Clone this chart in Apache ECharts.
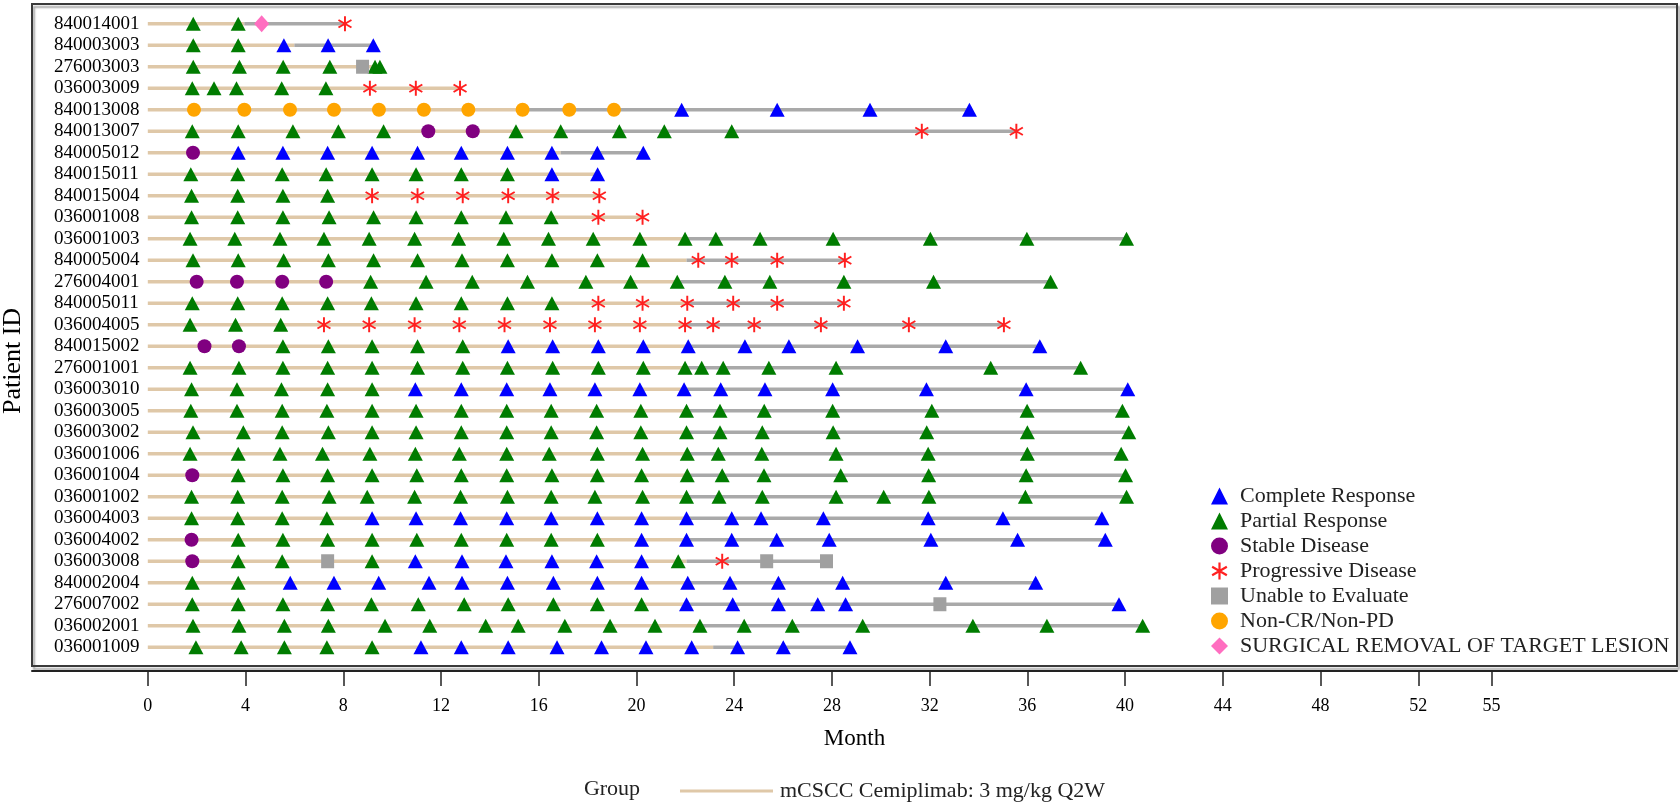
<!DOCTYPE html>
<html>
<head>
<meta charset="utf-8">
<title>Swimmer plot</title>
<script src="https://cdn.jsdelivr.net/npm/echarts@6/dist/echarts.min.js"></script>
<style>
  html, body { margin: 0; padding: 0; background: #fff; }
  #chart { width: 1680px; height: 802px; }
</style>
</head>
<body>
<div id="chart"></div>
<script>
  // patients, top to bottom
  const patients = [
    '840014001', '840003003', '276003003', '036003009', '840013008',
    '840013007', '840005012', '840015011', '840015004', '036001008',
    '036001003', '840005004', '276004001', '840005011', '036004005',
    '840015002', '276001001', '036003010', '036003005', '036003002',
    '036001006', '036001004', '036001002', '036004003', '036004002',
    '036003008', '840002004', '276007002', '036002001', '036001009'
  ]

  // end of treatment (month), tan bar
  const treatmentEnd = [
    3.95, 6.0, 9.5, 12.78, 15.6,
    16.94, 16.9, 18.41, 18.48, 20.25,
    21.99, 22.05, 21.8, 22.08, 21.99,
    22.1, 22.1, 22.0, 22.0, 21.95,
    22.05, 22.05, 22.05, 22.05, 22.05,
    22.05, 22.1, 22.05, 22.72, 23.14
  ]

  // assessment months per patient
  const visitMonths = [
    [1.86, 3.70, 4.66, 8.07],
    [1.86, 3.70, 5.57, 7.38, 9.23],
    [1.86, 3.75, 5.54, 7.45, 8.79, 9.30, 9.50],
    [1.82, 2.71, 3.63, 5.48, 7.29, 9.09, 10.97, 12.78],
    [1.89, 3.95, 5.82, 7.62, 9.46, 11.30, 13.12, 15.34, 17.25, 19.08, 21.85, 25.76, 29.56, 33.63],
    [1.82, 3.70, 5.94, 7.80, 9.65, 11.48, 13.30, 15.07, 16.90, 19.30, 21.14, 23.90, 31.68, 35.55],
    [1.85, 3.70, 5.53, 7.36, 9.18, 11.04, 12.83, 14.72, 16.54, 18.40, 20.28],
    [1.76, 3.68, 5.50, 7.30, 9.18, 10.98, 12.83, 14.72, 16.54, 18.41],
    [1.79, 3.68, 5.53, 7.36, 9.18, 11.04, 12.89, 14.75, 16.57, 18.48],
    [1.79, 3.68, 5.53, 7.42, 9.24, 10.98, 12.83, 14.66, 16.51, 18.44, 20.25],
    [1.73, 3.56, 5.41, 7.21, 9.06, 10.92, 12.72, 14.57, 16.40, 18.23, 20.14, 21.99, 23.25, 25.06, 28.05, 32.03, 35.98, 40.06],
    [1.85, 3.70, 5.56, 7.39, 9.24, 11.04, 12.86, 14.72, 16.54, 18.40, 20.25, 22.53, 23.90, 25.76, 28.53],
    [2.00, 3.65, 5.50, 7.30, 9.12, 11.39, 13.28, 15.54, 17.93, 19.76, 21.67, 23.62, 25.46, 28.49, 32.16, 36.95],
    [1.82, 3.68, 5.50, 7.36, 9.15, 10.98, 12.83, 14.72, 16.54, 18.44, 20.25, 22.08, 23.96, 25.76, 28.49],
    [1.73, 3.59, 5.44, 7.21, 9.06, 10.92, 12.75, 14.60, 16.46, 18.30, 20.14, 21.99, 23.14, 24.82, 27.55, 31.15, 35.04],
    [2.32, 3.73, 5.53, 7.39, 9.18, 11.04, 12.89, 14.75, 16.57, 18.44, 20.28, 22.12, 24.44, 26.24, 29.05, 32.66, 36.51],
    [1.73, 3.73, 5.53, 7.36, 9.18, 11.04, 12.89, 14.72, 16.57, 18.44, 20.28, 21.99, 22.67, 23.55, 25.42, 28.17, 34.50, 38.18],
    [1.79, 3.65, 5.47, 7.36, 9.18, 10.95, 12.83, 14.69, 16.46, 18.30, 20.14, 21.95, 23.45, 25.26, 28.03, 31.87, 35.95, 40.11],
    [1.76, 3.65, 5.50, 7.33, 9.18, 10.98, 12.83, 14.69, 16.51, 18.37, 20.18, 22.05, 23.42, 25.23, 28.03, 32.09, 35.99, 39.89],
    [1.85, 3.91, 5.50, 7.39, 9.18, 10.98, 12.83, 14.69, 16.51, 18.37, 20.18, 22.05, 23.42, 25.15, 28.05, 31.88, 36.00, 40.15],
    [1.73, 3.70, 5.41, 7.15, 9.09, 10.95, 12.75, 14.69, 16.43, 18.40, 20.25, 22.08, 23.35, 25.13, 28.17, 31.94, 36.00, 39.84],
    [1.82, 3.70, 5.53, 7.36, 9.18, 11.01, 12.83, 14.69, 16.54, 18.40, 20.21, 22.08, 23.51, 25.22, 28.36, 31.96, 35.95, 40.02],
    [1.79, 3.68, 5.50, 7.42, 8.98, 10.92, 12.80, 14.72, 16.51, 18.30, 20.25, 22.05, 23.38, 25.15, 28.17, 30.12, 31.97, 35.92, 40.06],
    [1.79, 3.68, 5.50, 7.33, 9.18, 10.98, 12.80, 14.69, 16.51, 18.40, 20.21, 22.05, 23.90, 25.10, 27.65, 31.94, 35.00, 39.05],
    [1.79, 3.70, 5.53, 7.36, 9.18, 11.01, 12.83, 14.69, 16.51, 18.40, 20.21, 22.05, 23.90, 25.74, 27.89, 32.05, 35.60, 39.19],
    [1.82, 3.70, 5.50, 7.36, 9.18, 10.95, 12.86, 14.66, 16.54, 18.37, 20.21, 21.71, 23.51, 25.33, 27.78],
    [1.82, 3.70, 5.83, 7.62, 9.45, 11.51, 12.86, 14.72, 16.60, 18.40, 20.21, 22.10, 23.83, 25.81, 28.44, 32.66, 36.34],
    [1.82, 3.70, 5.53, 7.36, 9.15, 11.07, 12.95, 14.75, 16.60, 18.40, 20.21, 22.05, 23.94, 25.81, 27.42, 28.56, 32.42, 39.75],
    [1.85, 3.73, 5.59, 7.39, 9.71, 11.54, 13.83, 15.16, 17.07, 18.92, 20.76, 22.60, 24.41, 26.38, 29.26, 33.77, 36.80, 40.72],
    [1.97, 3.82, 5.59, 7.33, 9.18, 11.18, 12.83, 14.75, 16.75, 18.57, 20.39, 22.26, 24.14, 26.01, 28.74]
  ]

  // response per assessment: C=CR, P=PR, S=SD, D=PD, U=unable, N=non-CR/non-PD, X=surgical removal
  const visitCodes = [
    'PPXD',
    'PPCCC',
    'PPPPUPP',
    'PPPPPDDD',
    'NNNNNNNNNNCCCC',
    'PPPPPSSPPPPPDD',
    'SCCCCCCCCCC',
    'PPPPPPPPCC',
    'PPPPDDDDDD',
    'PPPPPPPPPDD',
    'PPPPPPPPPPPPPPPPPP',
    'PPPPPPPPPPPDDDD',
    'SSSSPPPPPPPPPPPP',
    'PPPPPPPPPDDDDDD',
    'PPPDDDDDDDDDDDDDD',
    'SSPPPPPCCCCCCCCCC',
    'PPPPPPPPPPPPPPPPPP',
    'PPPPPCCCCCCCCCCCCC',
    'PPPPPPPPPPPPPPPPPP',
    'PPPPPPPPPPPPPPPPPP',
    'PPPPPPPPPPPPPPPPPP',
    'SPPPPPPPPPPPPPPPPP',
    'PPPPPPPPPPPPPPPPPPP',
    'PPPPCCCCCCCCCCCCCC',
    'SPPPPPPPPPCCCCCCCC',
    'SPPUPCCCCCCPDUU',
    'PPCCCCCCCCCCCCCCC',
    'PPPPPPPPPPPCCCCCUC',
    'PPPPPPPPPPPPPPPPPP',
    'PPPPPCCCCCCCCCC'
  ]

  const xTicks = [0, 4, 8, 12, 16, 20, 24, 28, 32, 36, 40, 44, 48, 52, 55]

  const asterisk = 'path://M8.7 20L11.3 20L11.3 0L8.7 0Z' +
    'M18.01 16.13L19.31 13.87L1.99 3.87L0.69 6.13Z' +
    'M0.69 13.87L1.99 16.13L19.31 6.13L18.01 3.87Z'

  const responseTypes = [
    { code: 'C', name: 'Complete Response', symbol: 'triangle', size: [15, 14], color: '#0000ff' },
    { code: 'P', name: 'Partial Response', symbol: 'triangle', size: [15, 14], color: '#007c00' },
    { code: 'S', name: 'Stable Disease', symbol: 'circle', size: 14, color: '#800080' },
    { code: 'D', name: 'Progressive Disease', symbol: asterisk, size: 15, color: '#ff2020' },
    { code: 'U', name: 'Unable to Evaluate', symbol: 'rect', size: [13, 14], color: '#a0a0a0' },
    { code: 'N', name: 'Non-CR/Non-PD', symbol: 'circle', size: 14, color: '#ffa500' },
    { code: 'X', name: 'SURGICAL REMOVAL OF TARGET LESION', symbol: 'diamond', size: [15, 17], color: '#ff6ec0' }
  ]

  const FONT = "'Liberation Serif', 'Times New Roman', serif"
  const TAN = '#dfc8a8'
  const GREY = '#a9a9a9'

  const chart = echarts.init(document.getElementById('chart'))

  // bar data: patient, end of treatment, last assessment
  const barData = patients.map((p, i) => [p, treatmentEnd[i], Math.max(...visitMonths[i])])

  const scatterSeries = responseTypes.map(t => {
    const data = []
    patients.forEach((p, i) => {
      visitMonths[i].forEach((m, j) => {
        if (visitCodes[i][j] === t.code) data.push([m, p])
      })
    })
    return {
      name: t.name,
      type: 'scatter',
      symbol: t.symbol,
      symbolSize: t.size,
      symbolKeepAspect: true,
      itemStyle: { color: t.color, opacity: 1 },
      z: 3,
      silent: true,
      data: data
    }
  })

  const option = {
    animation: false,
    backgroundColor: '#fff',
    textStyle: { fontFamily: FONT, color: '#000' },
    grid: { left: 32, right: 3, top: 13, height: 645, containLabel: false },
    xAxis: {
      type: 'value',
      min: -4.74,
      max: 62.59,
      offset: 13,
      name: 'Month',
      nameLocation: 'middle',
      nameGap: 56,
      nameTextStyle: { fontFamily: FONT, fontSize: 23, color: '#000' },
      axisLine: { show: true, lineStyle: { color: '#222', width: 2 } },
      axisTick: { show: true, customValues: xTicks, length: 15, lineStyle: { color: '#222', width: 1.5 } },
      axisLabel: { customValues: xTicks, margin: 26, fontFamily: FONT, fontSize: 18, color: '#000' },
      splitLine: { show: false }
    },
    yAxis: {
      type: 'category',
      inverse: true,
      data: patients,
      axisLine: { show: false },
      axisTick: { show: false },
      axisLabel: { inside: true, interval: 0, margin: 22, fontFamily: FONT, fontSize: 19, color: '#000' },
      splitLine: { show: false }
    },
    legend: [
      {
        orient: 'vertical',
        left: 1206,
        top: 480,
        itemWidth: 17,
        itemHeight: 17,
        itemGap: 3,
        selectedMode: false,
        data: responseTypes.map(t => t.name),
        textStyle: { fontFamily: FONT, fontSize: 22, lineHeight: 22, color: '#222', padding: [0, 0, 0, 7] }
      },
      {
        left: 675,
        top: 775,
        icon: 'rect',
        itemWidth: 93,
        itemHeight: 3,
        selectedMode: false,
        data: ['mCSCC Cemiplimab: 3 mg/kg Q2W'],
        textStyle: { fontFamily: FONT, fontSize: 22, lineHeight: 22, color: '#222', padding: [0, 0, 0, 2] }
      }
    ],
    graphic: [
      {
        type: 'rect',
        shape: { x: 32, y: 4, width: 1645, height: 662 },
        style: { fill: 'none', stroke: '#3a3a3a', lineWidth: 2, shadowColor: 'rgba(0,0,0,0.35)', shadowOffsetX: 2, shadowOffsetY: 3, shadowBlur: 2 },
        z: -1,
        silent: true
      },
      {
        type: 'text',
        x: 13,
        y: 361,
        rotation: Math.PI / 2,
        style: { text: 'Patient ID', fontFamily: FONT, fontSize: 26, fill: '#000', align: 'center', verticalAlign: 'middle' }
      },
      {
        type: 'text',
        x: 612,
        y: 789,
        style: { text: 'Group', fontFamily: FONT, fontSize: 22, fill: '#222', align: 'center', verticalAlign: 'middle' }
      }
    ],
    series: [
      {
        name: 'mCSCC Cemiplimab: 3 mg/kg Q2W',
        type: 'custom',
        z: 1,
        silent: true,
        itemStyle: { color: TAN },
        encode: { x: [1, 2], y: 0 },
        renderItem: function (params, api) {
          const y = api.value(0)
          const p0 = api.coord([0, y])
          const p1 = api.coord([api.value(1), y])
          const p2 = api.coord([api.value(2), y])
          const children = [{
            type: 'line',
            shape: { x1: p0[0], y1: p0[1], x2: p1[0], y2: p1[1] },
            style: { stroke: TAN, lineWidth: 3.5 }
          }]
          if (p2[0] > p1[0]) {
            children.push({
              type: 'line',
              shape: { x1: p1[0], y1: p1[1], x2: p2[0], y2: p2[1] },
              style: { stroke: GREY, lineWidth: 3.5 }
            })
          }
          return { type: 'group', children: children }
        },
        data: barData
      }
    ].concat(scatterSeries)
  }

  chart.setOption(option)
  window.addEventListener('resize', function () {
    chart.resize()
  })
</script>
</body>
</html>
